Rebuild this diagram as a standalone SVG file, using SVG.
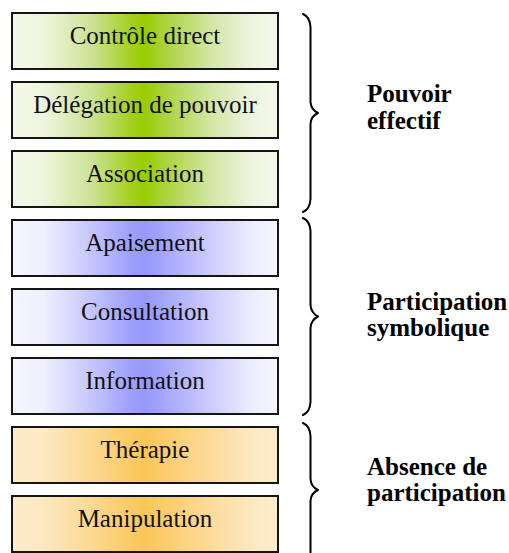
<svg xmlns="http://www.w3.org/2000/svg" width="509" height="553" viewBox="0 0 509 553">
  <defs>
    <linearGradient id="gGreen" x1="0" y1="0" x2="1" y2="0">
      <stop offset="0" stop-color="#f5f8ea"/>
      <stop offset="0.12" stop-color="#eff5dd"/>
      <stop offset="0.3" stop-color="#cce296"/>
      <stop offset="0.45" stop-color="#a4cf1c"/>
      <stop offset="0.5" stop-color="#99cc00"/>
      <stop offset="0.56" stop-color="#a8d132"/>
      <stop offset="0.75" stop-color="#d3e6a6"/>
      <stop offset="0.9" stop-color="#eef4e0"/>
      <stop offset="1" stop-color="#f5f8ec"/>
    </linearGradient>
    <linearGradient id="gBlue" x1="0" y1="0" x2="1" y2="0">
      <stop offset="0" stop-color="#f6f6ff"/>
      <stop offset="0.12" stop-color="#efeffe"/>
      <stop offset="0.3" stop-color="#c5c5fd"/>
      <stop offset="0.45" stop-color="#9e9efd"/>
      <stop offset="0.5" stop-color="#9999fc"/>
      <stop offset="0.56" stop-color="#a3a3fd"/>
      <stop offset="0.75" stop-color="#cdcdfd"/>
      <stop offset="0.9" stop-color="#ececfe"/>
      <stop offset="1" stop-color="#f6f6ff"/>
    </linearGradient>
    <linearGradient id="gOrange" x1="0" y1="0" x2="1" y2="0">
      <stop offset="0" stop-color="#fdecca"/>
      <stop offset="0.12" stop-color="#fde8c2"/>
      <stop offset="0.3" stop-color="#fcd891"/>
      <stop offset="0.45" stop-color="#fbca64"/>
      <stop offset="0.5" stop-color="#fbc75a"/>
      <stop offset="0.56" stop-color="#fccb68"/>
      <stop offset="0.75" stop-color="#fcdb9a"/>
      <stop offset="0.9" stop-color="#fde8c2"/>
      <stop offset="1" stop-color="#fdedcc"/>
    </linearGradient>
  </defs>
  <style>
    .box { stroke: #151515; stroke-width: 2; }
    .g { fill: url(#gGreen); }
    .b { fill: url(#gBlue); }
    .o { fill: url(#gOrange); }
    .t { font-size: 25px; fill: #111; text-anchor: middle; }
    .lbl { font-size: 25px; font-weight: bold; fill: #000; }
    .brace { fill: none; stroke: #000; stroke-width: 2; stroke-linecap: round; stroke-linejoin: round; }
  </style>

  <g font-family="'Liberation Serif', 'Times New Roman', 'DejaVu Serif', serif">
  <g id="node-controle">
    <rect class="box g" x="12" y="13" width="266" height="56"/>
    <text class="t" x="145" y="44">Contrôle direct</text>
  </g>
  <g id="node-delegation">
    <rect class="box g" x="12" y="82" width="266" height="56"/>
    <text class="t" x="145" y="113">Délégation de pouvoir</text>
  </g>
  <g id="node-association">
    <rect class="box g" x="12" y="151" width="266" height="56"/>
    <text class="t" x="145" y="182">Association</text>
  </g>
  <g id="node-apaisement">
    <rect class="box b" x="12" y="220" width="266" height="56"/>
    <text class="t" x="145" y="251">Apaisement</text>
  </g>
  <g id="node-consultation">
    <rect class="box b" x="12" y="289" width="266" height="56"/>
    <text class="t" x="145" y="320">Consultation</text>
  </g>
  <g id="node-information">
    <rect class="box b" x="12" y="358" width="266" height="56"/>
    <text class="t" x="145" y="389">Information</text>
  </g>
  <g id="node-therapie">
    <rect class="box o" x="12" y="427" width="266" height="56"/>
    <text class="t" x="145" y="458">Thérapie</text>
  </g>
  <g id="node-manipulation">
    <rect class="box o" x="12" y="496" width="266" height="56"/>
    <text class="t" x="145" y="527">Manipulation</text>
  </g>

  <g id="connectors">
    <path class="brace" d="M303,14 Q310,17 310.5,27 L310.5,102 Q311,110 318,113 Q311,116 310.5,124 L310.5,199 Q310,209 303,212"/>
    <path class="brace" d="M303,218 Q310,221 310.5,231 L310.5,305 Q311,313 318,316.5 Q311,320 310.5,328 L310.5,402 Q310,412 303,415"/>
    <path class="brace" d="M303,423 Q310,426 310.5,436 L310.5,479 Q311,487 318,490 Q311,493 310.5,501 L310.5,560"/>
  </g>

  <g id="label-pouvoir">
    <text class="lbl" x="367" y="102">Pouvoir</text>
    <text class="lbl" x="367" y="129">effectif</text>
  </g>
  <g id="label-participation">
    <text class="lbl" x="367" y="310">Participation</text>
    <text class="lbl" x="367" y="336">symbolique</text>
  </g>
  <g id="label-absence">
    <text class="lbl" x="367" y="475">Absence de</text>
    <text class="lbl" x="367" y="501">participation</text>
  </g>
  </g>
</svg>
